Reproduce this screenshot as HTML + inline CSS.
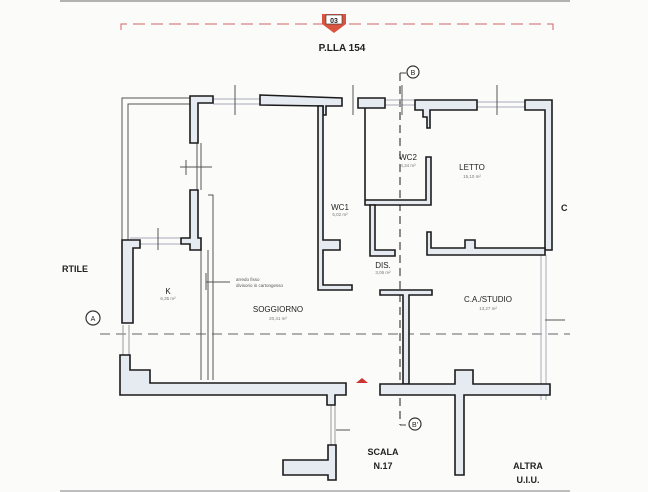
<!DOCTYPE html>
<html><head><meta charset="utf-8"><style>
html,body{margin:0;padding:0;background:#fbfbfa;}
svg{display:block}
text{font-family:"Liberation Sans",sans-serif;fill:#222}
</style></head><body>
<svg width="648" height="492" viewBox="0 0 648 492" xmlns="http://www.w3.org/2000/svg">
<rect width="648" height="492" fill="#fbfbfa"/>
<line x1="60" y1="1" x2="570" y2="1" stroke="#999" stroke-width="1.5"/>
<line x1="60" y1="491" x2="570" y2="491" stroke="#aaa" stroke-width="1.5"/>
<!-- top dashed red -->
<path d="M121 30 V24 H553 V30" fill="none" stroke="#c66" stroke-width="1" stroke-dasharray="12,6"/>
<polygon points="322,14 346,14 346,24 334,33 322,24" fill="#d9553f"/>
<rect x="326" y="15" width="16" height="9" fill="#fff" stroke="#333" stroke-width="0.6"/>
<text x="334" y="23" font-size="7" text-anchor="middle" font-weight="bold">03</text>
<text x="342" y="51" font-size="10" font-weight="bold" text-anchor="middle">P.LLA 154</text>
<!-- dashed axes -->
<line x1="100" y1="334" x2="570" y2="334" stroke="#666" stroke-width="1" stroke-dasharray="10,6"/>
<line x1="400" y1="73" x2="400" y2="425" stroke="#444" stroke-width="1.2" stroke-dasharray="8,5"/>
<line x1="400" y1="73" x2="406" y2="73" stroke="#444"/>
<line x1="400" y1="425" x2="406" y2="425" stroke="#444"/>
<g fill="#fff" stroke="#333" stroke-width="1.2">
<circle cx="413" cy="72" r="6"/><circle cx="415" cy="424" r="6"/><circle cx="93" cy="318" r="7"/>
</g>
<text x="413" y="75" font-size="7" text-anchor="middle">B</text>
<text x="415" y="427" font-size="7" text-anchor="middle">B'</text>
<text x="93" y="321" font-size="7" text-anchor="middle">A</text>
<!-- thin lines / windows -->
<g fill="none" stroke="#555" stroke-width="1">
<path d="M122 244 V98 H190"/><path d="M128 244 V104 H190"/>
<path d="M197 143 V190 M201 143 V190"/>
<path d="M201 250 V380 M208 250 V380 M208 195 H213 V380"/>
<path d="M213 99 H260 M213 104 H260" stroke="#aab"/>
<path d="M385 100 H415 M385 105 H415" stroke="#aab"/>
<path d="M477 102 H525 M477 107 H525" stroke="#aab"/>
<path d="M130 238 H180 M130 244 H180" stroke="#aab"/>
<path d="M123 325 V355 M129 325 V355" stroke="#999"/>
<path d="M331 405 V445 M335 405 V445" stroke="#999"/>
<path d="M541 255 V400 M546 255 V400" stroke="#aab"/>
<path d="M235 85 V115 M353 85 V115 M402 85 V115 M497 85 V115 M186 160 V175 M180 167 H212 M158 228 V250 M545 320 H565 M336 430 H350"/>
<path d="M206 273 V290 M206 282 H230"/>
</g>
<!-- walls -->
<g fill="#e6ebf2" stroke="#1b1b1b" stroke-width="1.6" stroke-linejoin="miter">
<path d="M190 96 H213 V103 H198 V143 H190 Z"/>
<path d="M190 190 H198 V238 H201 V250 H190 V244 H181 V238 H190 Z"/>
<path d="M260 95 L342 98 V106 H326 V115 H323 V106 L260 105 Z"/>
<path d="M318 106 H323 V240 H340 V250 H323 V285 H352 V290 H318 Z"/>
<path d="M358 98 H385 V108 H365 V200 H426 V157 H431 V205 H365 V108 H358 Z"/>
<path d="M415 100 H477 V110 H430 V128 H427 V117 H423 V110 H415 Z"/>
<path d="M525 100 H552 V250 H545 V110 H525 Z"/>
<path d="M370 205 H375 V250 H395 V256 H370 Z"/>
<path d="M427 232 H431 V248 H465 V240 H475 V248 H545 V255 H427 Z"/>
<path d="M380 290 H432 V295 H409 V384 H403 V295 H380 Z"/>
<path d="M122 240 H140 V248 H133 V323 H122 Z"/>
<path d="M120 355 H130 V370 H150 V383 H346 V395 H335 V405 H327 V395 H120 Z"/>
<path d="M380 384 H455 V370 H473 V384 H550 V395 H464 V475 H455 V395 H380 Z"/>
<path d="M328 445 H336 V480 H328 V475 H283 V460 H328 Z"/>
</g>
<polygon points="356,383 362,378 368,383" fill="#c33"/>
<!-- labels -->
<g font-size="8">
<text x="408" y="160" text-anchor="middle">WC2</text>
<text x="472" y="170" text-anchor="middle">LETTO</text>
<text x="340" y="210" text-anchor="middle">WC1</text>
<text x="383" y="268" text-anchor="middle">DIS.</text>
<text x="168" y="294" text-anchor="middle">K</text>
<text x="278" y="312" text-anchor="middle">SOGGIORNO</text>
<text x="488" y="302" text-anchor="middle">C.A./STUDIO</text>
</g>
<g font-size="4.5">
<text x="408" y="167" text-anchor="middle" style="fill:#777">4,34 m²</text>
<text x="472" y="178" text-anchor="middle" style="fill:#777">15,10 m²</text>
<text x="340" y="216" text-anchor="middle" style="fill:#777">5,02 m²</text>
<text x="383" y="274" text-anchor="middle" style="fill:#777">3,06 m²</text>
<text x="168" y="300" text-anchor="middle" style="fill:#777">6,35 m²</text>
<text x="278" y="320" text-anchor="middle" style="fill:#777">20,41 m²</text>
<text x="488" y="310" text-anchor="middle" style="fill:#777">13,27 m²</text>
<text x="236" y="281" style="fill:#555">arredo fisso</text>
<text x="236" y="287" style="fill:#555">divisorio in cartongesso</text>
</g>
<g font-size="9" font-weight="bold">
<text x="62" y="272">RTILE</text>
<text x="561" y="211">C</text>
<text x="383" y="455" text-anchor="middle">SCALA</text>
<text x="383" y="469" text-anchor="middle">N.17</text>
<text x="528" y="469" text-anchor="middle">ALTRA</text>
<text x="528" y="483" text-anchor="middle">U.I.U.</text>
</g>
</svg>
</body></html>
